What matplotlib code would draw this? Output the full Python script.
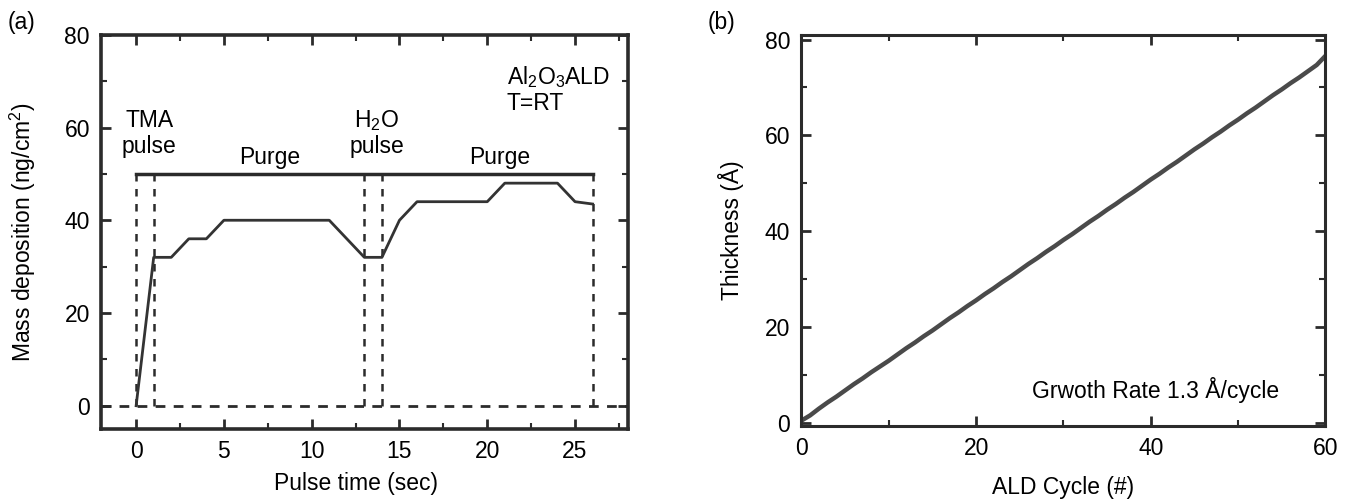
import matplotlib
matplotlib.use('Agg')
import matplotlib.pyplot as plt
from matplotlib.ticker import MultipleLocator

plt.rcParams['font.family'] = ['Liberation Sans', 'DejaVu Sans']
plt.rcParams['mathtext.default'] = 'regular'

# (a) QCM mass deposition during one ALD cycle
pulse_t = [0, 1, 2, 3, 4, 5, 11, 13, 14, 15, 16, 20, 21, 24, 25, 26]
mass = [0, 32, 32, 36, 36, 40, 40, 32, 32, 40, 44, 44, 48, 48, 44, 43.5]
step_edges = [0, 1, 13, 14, 26]   # dashed vertical step boundaries
step_level = 50

# (b) thickness vs ALD cycle
cycles = list(range(61))
thickness = [0.5, 1.6, 3.0, 4.3, 5.5, 6.8, 8.1, 9.3, 10.6, 11.8,
             13.0, 14.3, 15.6, 16.8, 18.1, 19.3, 20.6, 21.9, 23.1, 24.4,
             25.6, 26.9, 28.1, 29.4, 30.6, 31.9, 33.2, 34.4, 35.7, 36.9,
             38.2, 39.4, 40.7, 42.0, 43.2, 44.5, 45.7, 47.0, 48.2, 49.5,
             50.8, 52.0, 53.3, 54.5, 55.8, 57.1, 58.3, 59.6, 60.8, 62.1,
             63.3, 64.6, 65.8, 67.1, 68.4, 69.6, 70.9, 72.1, 73.4, 74.7, 76.6]

fig = plt.figure(figsize=(13.47, 5.04), dpi=100)
ax1 = fig.add_axes([0.075, 0.149, 0.391, 0.782])
ax2 = fig.add_axes([0.595, 0.155, 0.389, 0.776])

fs = 16.5
dark = '#2b2b2b'

# panel a
ax1.axhline(0, color=dark, lw=2, ls=(0, (3.5, 3)))
for e in step_edges:
    ax1.plot([e, e], [0, step_level], color=dark, lw=1.8, ls=(0, (3, 3)))
ax1.plot([step_edges[0], step_edges[-1]], [step_level, step_level], color=dark, lw=2.5)
ax1.plot(pulse_t, mass, color='#333333', lw=2)

ax1.text(0.75, 61.6, 'TMA', ha='center', va='center', fontsize=fs)
ax1.text(0.75, 55.8, 'pulse', ha='center', va='center', fontsize=fs)
ax1.text(7.6, 53.6, 'Purge', ha='center', va='center', fontsize=fs)
ax1.text(13.7, 61.4, 'H$_2$O', ha='center', va='center', fontsize=fs)
ax1.text(13.7, 55.8, 'pulse', ha='center', va='center', fontsize=fs)
ax1.text(20.7, 53.6, 'Purge', ha='center', va='center', fontsize=fs)
ax1.text(21.1, 70.8, 'Al$_2$O$_3$ALD', ha='left', va='center', fontsize=fs)
ax1.text(21.1, 65.2, 'T=RT', ha='left', va='center', fontsize=fs)

ax1.set_xlim(-2, 28)
ax1.set_ylim(-5, 80)
ax1.xaxis.set_major_locator(MultipleLocator(5))
ax1.xaxis.set_minor_locator(MultipleLocator(2.5))
ax1.yaxis.set_major_locator(MultipleLocator(20))
ax1.yaxis.set_minor_locator(MultipleLocator(10))
ax1.set_xlabel('Pulse time (sec)', fontsize=fs)
ax1.set_ylabel('Mass deposition (ng/cm$^2$)', fontsize=fs)
ax1.xaxis.set_label_coords(0.485, -0.109)
ax1.yaxis.set_label_coords(-0.12, 0.5)

# panel b
ax2.plot(cycles, thickness, color='#4a4a4a', lw=3.2)
ax2.text(26.4, 6.9, 'Grwoth Rate 1.3 Å/cycle', ha='left', va='center', fontsize=fs)
ax2.set_xlim(0, 60)
ax2.set_ylim(-0.6, 81)
ax2.xaxis.set_major_locator(MultipleLocator(20))
ax2.xaxis.set_minor_locator(MultipleLocator(10))
ax2.yaxis.set_major_locator(MultipleLocator(20))
ax2.yaxis.set_minor_locator(MultipleLocator(10))
ax2.set_xlabel('ALD Cycle (#)', fontsize=fs)
ax2.set_ylabel('Thickness (Å)', fontsize=fs)
ax2.xaxis.set_label_coords(0.5, -0.128)
ax2.yaxis.set_label_coords(-0.109, 0.5)

for ax, lw in ((ax1, 2.6), (ax2, 2.2)):
    for s in ax.spines.values():
        s.set_linewidth(lw)
        s.set_color(dark)
    ax.tick_params(which='both', direction='in', top=True, right=True,
                   labelsize=fs, color=dark)
    ax.tick_params(which='major', length=7, width=2, pad=8)
    ax.tick_params(which='minor', length=4, width=1.5)

fig.text(0.006, 0.956, '(a)', fontsize=fs, va='center')
fig.text(0.525, 0.956, '(b)', fontsize=fs, va='center')

fig.savefig('out.png', dpi=100)
